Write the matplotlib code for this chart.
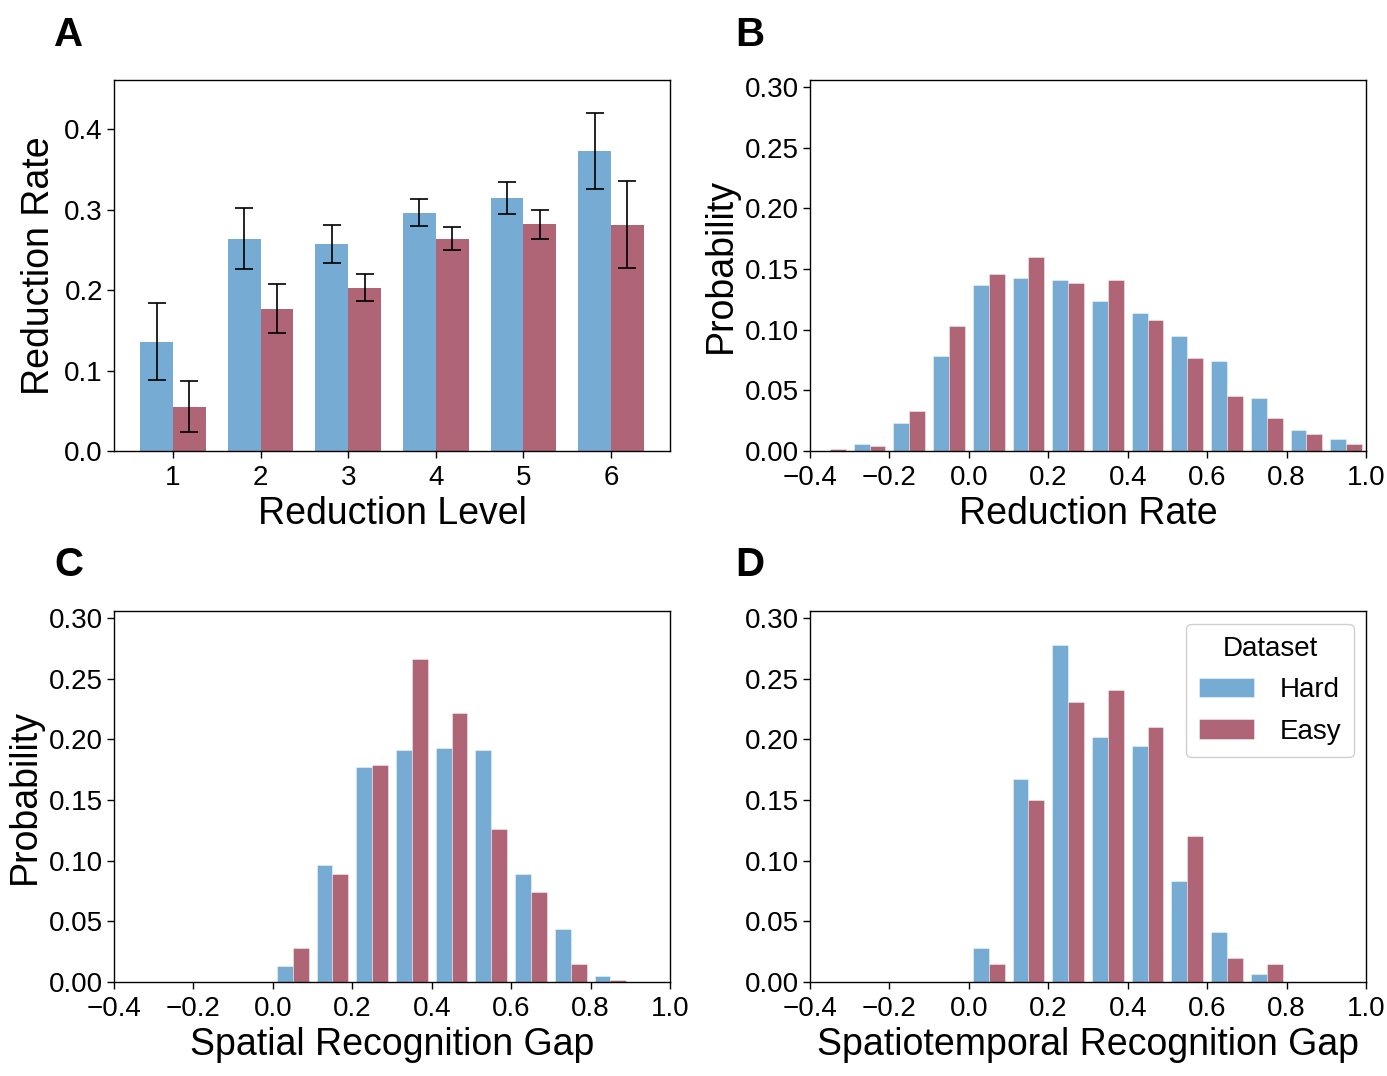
import numpy as np
from matplotlib import pyplot as plt

plt.rcParams['font.family'] = ['Liberation Sans', 'DejaVu Sans']

BLUE = '#76acd3'
RED = '#b06577'

# panel A: mean reduction rate per level, with error bars
levels = [1, 2, 3, 4, 5, 6]
hard_mean = [0.136, 0.264, 0.257, 0.296, 0.314, 0.373]
hard_err = [0.048, 0.038, 0.024, 0.017, 0.020, 0.047]
easy_mean = [0.055, 0.177, 0.203, 0.264, 0.282, 0.281]
easy_err = [0.032, 0.030, 0.017, 0.014, 0.018, 0.054]

# panel B: reduction rate histogram (bin left edges, probabilities)
b_edges = [-0.4, -0.3, -0.2, -0.1, 0.0, 0.1, 0.2, 0.3, 0.4, 0.5, 0.6, 0.7, 0.8, 0.9]
b_hard = [0.0, 0.0055, 0.023, 0.078, 0.1365, 0.1426, 0.1407, 0.1234, 0.1135, 0.0945, 0.0745, 0.0434, 0.0173, 0.0096]
b_easy = [0.0014, 0.0038, 0.033, 0.103, 0.1456, 0.1596, 0.1382, 0.1407, 0.108, 0.0766, 0.0453, 0.0269, 0.014, 0.0055]

# panel C: spatial recognition gap
c_edges = [0.0, 0.1, 0.2, 0.3, 0.4, 0.5, 0.6, 0.7, 0.8]
c_hard = [0.0132, 0.0964, 0.1776, 0.191, 0.1932, 0.191, 0.089, 0.0439, 0.0052]
c_easy = [0.0277, 0.0892, 0.179, 0.2663, 0.2218, 0.126, 0.0744, 0.0151, 0.0019]

# panel D: spatiotemporal recognition gap
d_edges = [0.0, 0.1, 0.2, 0.3, 0.4, 0.5, 0.6, 0.7]
d_hard = [0.0277, 0.167, 0.278, 0.2018, 0.1947, 0.0832, 0.0415, 0.0069]
d_easy = [0.0151, 0.150, 0.2306, 0.2403, 0.210, 0.120, 0.0198, 0.0151]

TICK_FS = 20
LABEL_FS = 27

fig = plt.figure(figsize=(13.87, 10.76), dpi=100)
W, H = 1387, 1076

def add_ax(left, top, right, bottom):
    return fig.add_axes([left / W, 1 - bottom / H, (right - left) / W, (bottom - top) / H])

axA = add_ax(114, 80, 670, 451)
axB = add_ax(810, 80, 1366, 451)
axC = add_ax(114, 611, 670, 982)
axD = add_ax(810, 611, 1366, 982)

def style(ax):
    ax.tick_params(labelsize=TICK_FS, length=5, width=1.0, pad=3)
    ax.tick_params(axis='x', pad=5)
    for s in ax.spines.values():
        s.set_linewidth(1.0)

# A
x = np.array(levels, dtype=float)
bw = 0.375
err_kw = dict(ecolor='black', capsize=6.3, error_kw=dict(elinewidth=1.2, capthick=1.2))
axA.bar(x - bw / 2, hard_mean, bw, yerr=hard_err, color=BLUE, label='Hard', **err_kw)
axA.bar(x + bw / 2, easy_mean, bw, yerr=easy_err, color=RED, label='Easy', **err_kw)
axA.set_xlim(0.326, 6.674)
axA.set_ylim(0, 0.461)
axA.set_xticks(levels)
axA.set_yticks([0.0, 0.1, 0.2, 0.3, 0.4])
axA.set_yticklabels(['0.0', '0.1', '0.2', '0.3', '0.4'])
axA.set_xlabel('Reduction Level', fontsize=LABEL_FS, labelpad=4)
axA.set_ylabel('Reduction Rate', fontsize=LABEL_FS, labelpad=5)
style(axA)

def hist_panel(ax, edges, hard, easy, xlabel, ylabel=True):
    e = np.array(edges)
    centers = e + 0.05
    half = 0.04
    ax.bar(centers - half / 2, hard, half, color=BLUE, edgecolor=(1, 1, 1, 0.5), linewidth=0.6, label='Hard')
    ax.bar(centers + half / 2, easy, half, color=RED, edgecolor=(1, 1, 1, 0.5), linewidth=0.6, label='Easy')
    ax.set_xlim(-0.4, 1.0)
    ax.set_ylim(0, 0.3058)
    ax.set_xticks([-0.4, -0.2, 0.0, 0.2, 0.4, 0.6, 0.8, 1.0])
    ax.set_xticklabels(['\u22120.4', '\u22120.2', '0.0', '0.2', '0.4', '0.6', '0.8', '1.0'])
    ax.set_yticks([0.0, 0.05, 0.10, 0.15, 0.20, 0.25, 0.30])
    ax.set_yticklabels(['0.00', '0.05', '0.10', '0.15', '0.20', '0.25', '0.30'])
    ax.set_xlabel(xlabel, fontsize=LABEL_FS, labelpad=4)
    if ylabel:
        ax.set_ylabel('Probability', fontsize=LABEL_FS, labelpad=4)
    style(ax)

hist_panel(axB, b_edges, b_hard, b_easy, 'Reduction Rate')
hist_panel(axC, c_edges, c_hard, c_easy, 'Spatial Recognition Gap')
hist_panel(axD, d_edges, d_hard, d_easy, 'Spatiotemporal Recognition Gap', ylabel=False)

leg = axD.legend(title='Dataset', loc='upper right', fontsize=TICK_FS, title_fontsize=TICK_FS,
                 handlelength=2.0, handleheight=0.7, handletextpad=0.9, labelspacing=0.55,
                 borderpad=0.45, borderaxespad=0.45, framealpha=1.0)
leg.get_frame().set_edgecolor('#d0d0d0')

for letter, px, py in [('A', 54, 46), ('B', 735, 46), ('C', 54, 576), ('D', 735, 576)]:
    fig.text(px / W, 1 - py / H, letter, fontsize=29, fontweight='bold', ha='left', va='baseline')

fig.savefig('out.png', dpi=100)
